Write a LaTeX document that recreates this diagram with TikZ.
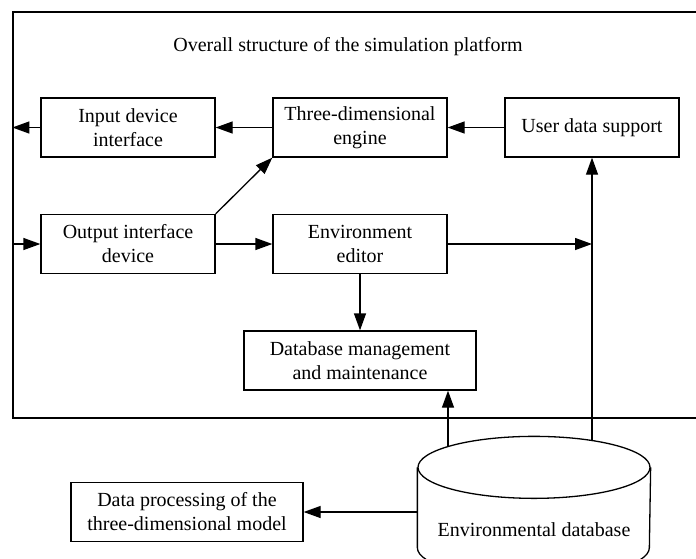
\documentclass[tikz,border=0pt]{standalone}
\usepackage{fontspec}
\setmainfont{Liberation Serif}
\usetikzlibrary{arrows.meta,positioning}

\begin{document}
\begin{tikzpicture}[%
    x=1pt, y=-1pt,
    >={Triangle[length=17pt,width=12pt]},
    line width=1.3pt,
    node distance=116.5pt and 232pt,
    on grid,
    block/.style={draw, rectangle, minimum width=174pt, minimum height=59pt,
        align=center, font=\fontsize{20}{24}\selectfont},
    wide/.style={block, minimum width=232pt}
    ]
    \clip (0,0) rectangle (696,558);

    \node[draw, minimum width=697pt, minimum height=406pt] (platform) at (361.5,215) {};
    \node[font=\fontsize{20}{24}\selectfont] (title) at (348,47) {Overall structure of the simulation platform};

    \node[block] (input)  at (128,127.5) {Input device\\interface};
    \node[block] (engine) [right=of input] {Three-dimensional\\engine};
    \node[block] (user)   [right=of engine] {User data support};
    \node[block] (output) [below=of input] {Output interface\\device};
    \node[block] (editor) [below=of engine] {Environment\\editor};
    \node[wide]  (dbm)    [below=of editor] {Database management\\and maintenance};

    \node[wide] (proc) at (187,512) {Data processing of the\\three-dimensional model};

    % database drum, text sits in its body
    \node[minimum width=232pt, minimum height=62pt,
        font=\fontsize{20}{24}\selectfont] (envdb) at (534,530) {Environmental database};
    \draw ([yshift=31pt]envdb.north) ellipse [x radius=116pt, y radius=31pt];
    \draw ([yshift=31pt]envdb.north west) -- ([yshift=14pt]envdb.south west)
        arc [start angle=180, end angle=360, x radius=116pt, y radius=31pt]
        -- ([yshift=31pt]envdb.north east);

    \coordinate (dbin) at (448,447);
    \coordinate (userin) at (user.south |- 0,441);

    \draw[->] (engine) -- (input);
    \draw[->] (user) -- (engine);
    \draw[->] (input) -- (input -| platform.west);
    \draw[->] (output -| platform.west) -- (output);
    \draw[->] (output.north east) -- (engine.south west);
    \draw[->] (output) -- (editor);
    \draw[->] (editor) -- (editor -| user);
    \draw[->] (editor) -- (dbm);
    \draw[->] (dbin) -- (dbin |- dbm.south);
    \draw[->] (userin) -- (user.south);
    \draw[->] (proc -| envdb.west) -- (proc);

\end{tikzpicture}
\end{document}
